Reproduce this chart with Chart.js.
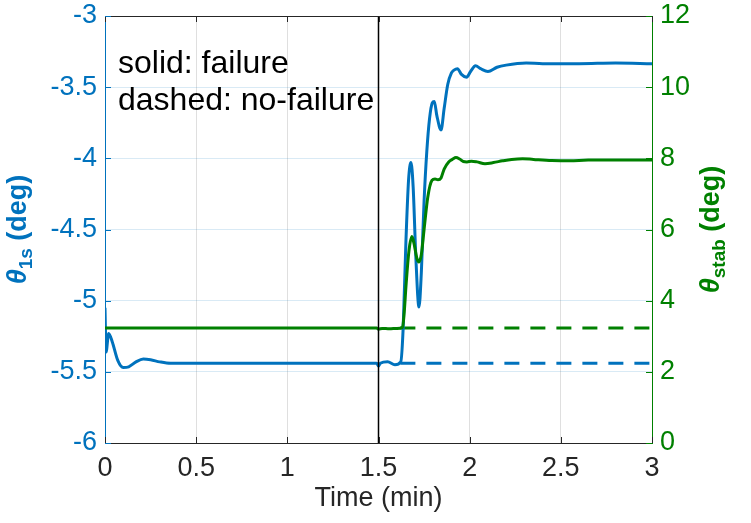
<!DOCTYPE html>
<html>
<head>
<meta charset="utf-8">
<script src="https://cdn.jsdelivr.net/npm/chart.js@4/dist/chart.umd.min.js"></script>
<style>
  html, body { margin: 0; padding: 0; background: #fff; }
  #wrap { width: 751px; height: 523px; }
</style>
</head>
<body>
<div id="wrap"><canvas id="plot" width="751" height="523"></canvas></div>
<script>
// time axis (min)
const xTicks = [0, 0.5, 1, 1.5, 2, 2.5, 3];
const failureTime = 1.5;

// theta_1s, failure case (left axis, deg)
const theta1sTime = [0, 0.006, 0.02, 0.04, 0.07, 0.1, 0.13, 0.17, 0.21, 0.25, 0.3, 0.36,
  0.6, 0.9, 1.2, 1.49, 1.5, 1.51, 1.55, 1.59, 1.622, 1.635, 1.65, 1.665, 1.678, 1.69,
  1.705, 1.722, 1.735, 1.75, 1.765, 1.78, 1.795, 1.806, 1.82, 1.843, 1.86, 1.88, 1.9,
  1.914, 1.933, 1.955, 1.983, 2.005, 2.032, 2.06, 2.1, 2.15, 2.2, 2.31, 2.4, 2.6, 2.8, 3.0];
const theta1sFail = [-5.05, -5.36, -5.23, -5.29, -5.42, -5.47, -5.465, -5.43, -5.41, -5.415, -5.43, -5.44,
  -5.44, -5.44, -5.44, -5.44, -5.46, -5.44, -5.43, -5.45, -5.43, -5.2, -4.6, -4.15, -4.03, -4.2,
  -4.7, -5.045, -4.8, -4.3, -3.95, -3.72, -3.61, -3.6, -3.7, -3.8, -3.65, -3.48, -3.4,
  -3.38, -3.37, -3.41, -3.43, -3.39, -3.35, -3.37, -3.39, -3.36, -3.345, -3.33, -3.335, -3.335, -3.33, -3.335];

// theta_stab, failure case (right axis, deg)
const thetaStabTime = [0, 0.5, 1.0, 1.49, 1.5, 1.52, 1.56, 1.6, 1.632, 1.64, 1.652, 1.667, 1.683,
  1.695, 1.71, 1.722, 1.735, 1.75, 1.77, 1.793, 1.81, 1.826, 1.843, 1.86, 1.885, 1.905, 1.925,
  1.945, 1.965, 1.985, 2.01, 2.04, 2.084, 2.13, 2.18, 2.23, 2.29, 2.35, 2.45, 2.55, 2.65, 2.8, 3.0];
const thetaStabFail = [3.23, 3.23, 3.23, 3.23, 3.2, 3.22, 3.21, 3.22, 3.25, 3.6, 4.5, 5.4, 5.8,
  5.6, 5.2, 5.09, 5.3, 6.0, 6.9, 7.38, 7.42, 7.4, 7.45, 7.7, 7.9, 7.97, 8.02,
  7.98, 7.91, 7.9, 7.92, 7.9, 7.85, 7.88, 7.93, 7.97, 7.99, 7.97, 7.94, 7.93, 7.95, 7.95, 7.95];

// no-failure case continues at the pre-failure levels
const noFailTime = [1.62, 3.0];
const theta1sNoFail = [-5.44, -5.44];
const thetaStabNoFail = [3.23, 3.23];

const BLUE = '#0072BD';
const GREEN = '#008000';
const DARK = '#262626';
const FONT = '"Liberation Sans", Arial, Helvetica, sans-serif';

const pts = (xs, ys) => xs.map((x, i) => ({ x: x, y: ys[i] }));
const plain = v => String(v);

// axis titles with subscripts and inward tick marks, drawn by hand
const decorations = {
  id: 'decorations',
  afterDraw(chart) {
    const { ctx, chartArea: a, scales } = chart;
    ctx.save();

    // top frame line
    ctx.strokeStyle = DARK;
    ctx.lineWidth = 1;
    ctx.beginPath();
    ctx.moveTo(a.left, a.top + 0.5);
    ctx.lineTo(a.right, a.top + 0.5);
    ctx.stroke();

    const tl = 6;
    ctx.beginPath();
    scales.x.ticks.forEach(t => {
      const px = Math.round(scales.x.getPixelForValue(t.value)) + 0.5;
      ctx.moveTo(px, a.bottom); ctx.lineTo(px, a.bottom - tl);
      ctx.moveTo(px, a.top); ctx.lineTo(px, a.top + tl);
    });
    ctx.stroke();

    ctx.strokeStyle = BLUE;
    ctx.beginPath();
    scales.y.ticks.forEach(t => {
      const py = Math.round(scales.y.getPixelForValue(t.value)) + 0.5;
      ctx.moveTo(a.left, py); ctx.lineTo(a.left + tl, py);
    });
    ctx.stroke();

    ctx.strokeStyle = GREEN;
    ctx.beginPath();
    scales.y2.ticks.forEach(t => {
      const py = Math.round(scales.y2.getPixelForValue(t.value)) + 0.5;
      ctx.moveTo(a.right, py); ctx.lineTo(a.right - tl, py);
    });
    ctx.stroke();

    const cy = (a.top + a.bottom) / 2;
    drawYTitle(ctx, 26, cy, BLUE, '1s');
    drawYTitle(ctx, 719, cy, GREEN, 'stab');

    // annotation
    ctx.fillStyle = '#000';
    ctx.font = '32px ' + FONT;
    ctx.textAlign = 'left';
    ctx.textBaseline = 'alphabetic';
    ctx.fillText('solid: failure', 118, 73);
    ctx.fillText('dashed: no-failure', 118, 110);
    ctx.restore();
  }
};

function drawYTitle(ctx, baseX, cy, color, sub) {
  const big = 'bold 27px ' + FONT;
  const greek = 'italic bold 27px ' + FONT;
  const small = 'bold 19px ' + FONT;
  ctx.save();
  ctx.fillStyle = color;
  ctx.textBaseline = 'alphabetic';
  ctx.textAlign = 'left';
  ctx.font = greek; const w1 = ctx.measureText('\u03B8').width;
  ctx.font = small; const w2 = ctx.measureText(sub).width;
  ctx.font = big; const w3 = ctx.measureText(' (deg)').width;
  const total = w1 + w2 + w3;
  ctx.translate(baseX, cy);
  ctx.rotate(-Math.PI / 2);
  let x = -total / 2;
  ctx.font = greek; ctx.fillText('\u03B8', x, 0); x += w1;
  ctx.font = small; ctx.fillText(sub, x, 6); x += w2;
  ctx.font = big; ctx.fillText(' (deg)', x, 0);
  ctx.restore();
}

// fixed box sizes so the plot area lands at x 105..652, y 16..443
const fixVertical = w => s => { s.width = w; s.paddingTop = 0; s.paddingBottom = 0; };

new Chart(document.getElementById('plot'), {
  type: 'line',
  data: {
    datasets: [
      {
        label: 'failure time',
        data: [{ x: failureTime, y: -6 }, { x: failureTime, y: -3 }],
        yAxisID: 'y',
        borderColor: '#000',
        borderWidth: 1.5,
        pointRadius: 0,
        order: -1
      },
      {
        label: 'theta_stab failure',
        data: pts(thetaStabTime, thetaStabFail),
        yAxisID: 'y2',
        borderColor: GREEN,
        borderWidth: 3,
        pointRadius: 0,
        cubicInterpolationMode: 'monotone',
        order: 1
      },
      {
        label: 'theta_1s failure',
        data: pts(theta1sTime, theta1sFail),
        yAxisID: 'y',
        borderColor: BLUE,
        borderWidth: 3,
        pointRadius: 0,
        cubicInterpolationMode: 'monotone',
        order: 2
      },
      {
        label: 'theta_stab no-failure',
        data: pts(noFailTime, thetaStabNoFail),
        yAxisID: 'y2',
        borderColor: GREEN,
        borderWidth: 3,
        borderDash: [15, 11],
        pointRadius: 0,
        order: 3
      },
      {
        label: 'theta_1s no-failure',
        data: pts(noFailTime, theta1sNoFail),
        yAxisID: 'y',
        borderColor: BLUE,
        borderWidth: 3,
        borderDash: [15, 11],
        pointRadius: 0,
        order: 4
      }
    ]
  },
  options: {
    responsive: false,
    animation: false,
    layout: { padding: { top: 16, left: 0, right: 0, bottom: 0 } },
    plugins: { legend: { display: false }, tooltip: { enabled: false } },
    scales: {
      x: {
        type: 'linear',
        min: 0,
        max: 3,
        afterBuildTicks: s => { s.ticks = xTicks.map(v => ({ value: v })); },
        afterFit: s => { s.height = 80; s.paddingLeft = 0; s.paddingRight = 0; },
        grid: { color: 'rgba(38,38,38,0.15)', drawTicks: false },
        border: { color: DARK, width: 1 },
        ticks: { color: DARK, padding: 9, callback: plain, font: { family: FONT, size: 27 } },
        title: { display: true, text: 'Time (min)', color: DARK, padding: { top: 0, bottom: 8 }, font: { family: FONT, size: 27 } }
      },
      y: {
        position: 'left',
        min: -6,
        max: -3,
        ticks: { stepSize: 0.5, color: BLUE, padding: 8, callback: plain, font: { family: FONT, size: 27 } },
        afterFit: fixVertical(105),
        grid: { color: 'rgba(0,114,189,0.15)', drawTicks: false },
        border: { color: BLUE, width: 1 }
      },
      y2: {
        position: 'right',
        min: 0,
        max: 12,
        ticks: { stepSize: 2, color: GREEN, padding: 8, callback: plain, font: { family: FONT, size: 27 } },
        afterFit: fixVertical(99),
        grid: { drawOnChartArea: false, drawTicks: false },
        border: { color: GREEN, width: 1 }
      }
    }
  },
  plugins: [decorations]
});
</script>
</body>
</html>
